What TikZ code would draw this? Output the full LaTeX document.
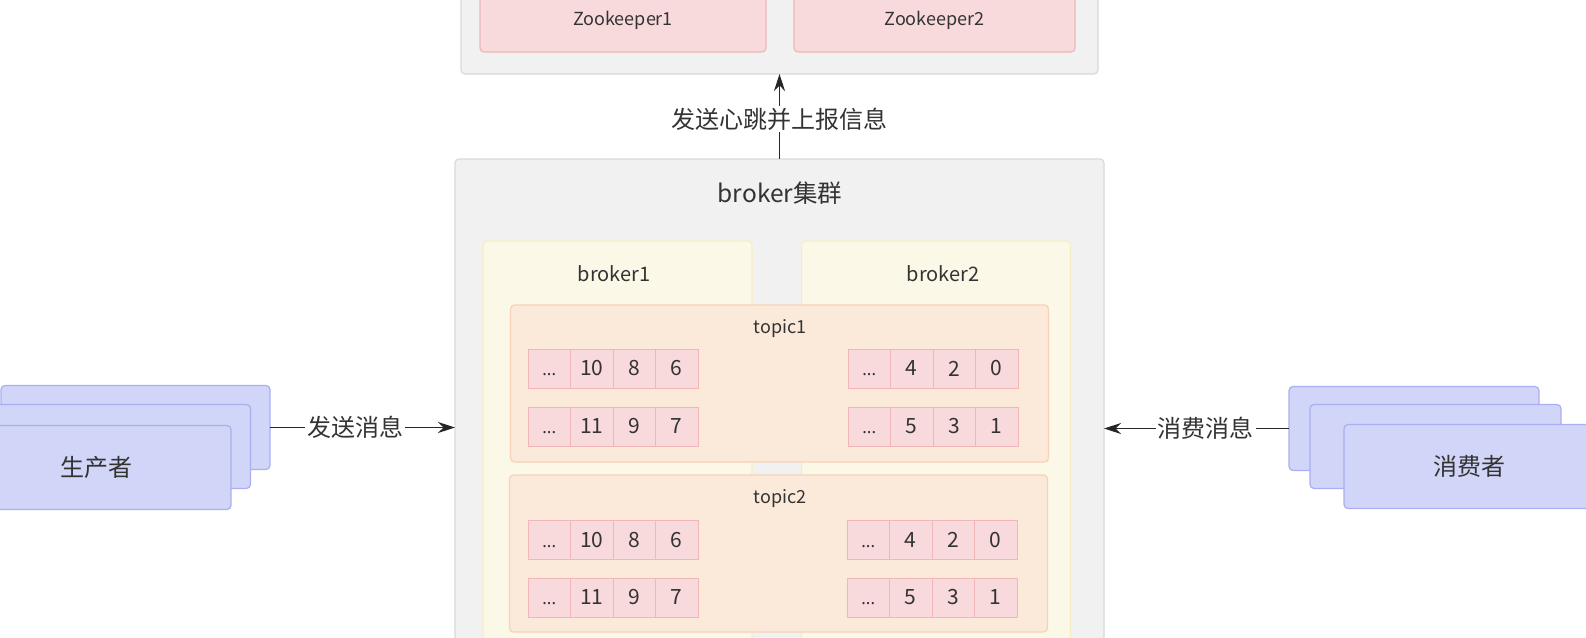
\documentclass[tikz,border=0pt]{standalone}
\usepackage{fontspec}
\setmainfont{Noto Sans CJK SC}
\newfontfamily\lat{Noto Sans}
\usetikzlibrary{arrows.meta,positioning}
\definecolor{txt}{HTML}{333333}
\definecolor{grpfill}{HTML}{F1F1F1}
\definecolor{grpline}{HTML}{D9D9D9}
\definecolor{zkfill}{HTML}{F9DADC}
\definecolor{zkline}{HTML}{F0B6B8}
\definecolor{brkfill}{HTML}{FCF8E8}
\definecolor{brkline}{HTML}{F6EDC4}
\definecolor{tpfill}{HTML}{FBE9DA}
\definecolor{tpline}{HTML}{F7D2B4}
\definecolor{clfill}{HTML}{D1D5F7}
\definecolor{clline}{HTML}{A9AFF0}
\newcommand\fsz[1]{\fontsize{#1}{#1}\selectfont}
% one row of a partition: name, left x, centre y, three offsets
\newcommand\partrow[6]{%
 \node[cell] (#1a) at (#2+21.25,#3) {\vphantom{0}\lat\fsz{17}...};
 \node[cell] (#1b) at (#2+63.75,#3) {#4};
 \node[cell] (#1c) at (#2+106.25,#3) {#5};
 \node[cell] (#1d) at (#2+148.75,#3) {#6};}

\begin{document}
\begin{tikzpicture}[x=1pt,y=-1pt,
 every node/.style={text=txt},
 box/.style={rounded corners=4pt,line width=1.2pt,inner sep=0pt,outer sep=0pt},
 grp/.style={box,draw=grpline,fill=grpfill},
 zk/.style={box,draw=zkline,fill=zkfill,minimum height=64pt,font=\fsz{18}},
 brk/.style={box,draw=brkline,fill=brkfill,minimum width=269pt,minimum height=459pt},
 topic/.style={box,draw=tpline,fill=tpfill,minimum width=538pt,minimum height=157pt},
 cell/.style={draw=zkline,fill=zkfill,line width=1pt,inner sep=0pt,outer sep=0pt,
  minimum width=42.5pt,minimum height=39pt,font=\fsz{21}},
 client/.style={box,draw=clline,fill=clfill,minimum width=269pt,minimum height=84pt,font=\fsz{24}},
 lbl/.style={inner sep=2pt,fill=white,font=\fsz{24}},
 link/.style={-{Stealth[length=17pt,width=11pt]},line width=1.7pt,draw=black!85}]
\useasboundingbox (0,0) rectangle (1586,637);
\clip (0,0) rectangle (1586,637);

% zookeeper
\node[grp,minimum width=637pt,minimum height=104pt] (zkgrp) at (779.5,22) {};
\node[zk,minimum width=286pt] (zk1) at (623,20) {Zookeeper1};
\node[zk,minimum width=281pt] (zk2) at (934.5,20) {Zookeeper2};

% broker cluster
\node[grp,minimum width=649pt,minimum height=530pt] (cluster) at (779.5,424) {};
\node[font=\fsz{24.5}] (clname) at (780,193) {broker集群};
\node[brk] (brk1) at (617.5,470.5) {};
\node[brk] (brk2) at (936,470.5) {};
\node[font=\fsz{20}] (brk1name) at (614,274) {broker1};
\node[font=\fsz{20}] (brk2name) at (943,274) {broker2};

\node[topic] (tp1) at (779.5,383.5) {};
\node[font=\fsz{18}] (tp1name) at (780,329) {topic1};
\partrow{tpAla}{528}{368.5}{10}{8}{6}
\partrow{tpAlb}{528}{426.5}{11}{9}{7}
\partrow{tpAra}{848}{368.5}{4}{2}{0}
\partrow{tpArb}{848}{426.5}{5}{3}{1}

\node[topic] (tp2) at (778.5,553.5) {};
\node[font=\fsz{18}] (tp2name) at (780,499) {topic2};
\partrow{tpBla}{528}{540}{10}{8}{6}
\partrow{tpBlb}{528}{597.5}{11}{9}{7}
\partrow{tpBra}{847}{540}{4}{2}{0}
\partrow{tpBrb}{847}{597.5}{5}{3}{1}

% producers and consumers
\node[client] (prod3) at (135.5,427.5) {};
\node[client] (prod2) at (116,446.5) {};
\node[client] (prod1) at (96.5,467.5) {生产者};
\node[client,minimum width=250pt] (cons3) at (1414,428.5) {};
\node[client,minimum width=251pt] (cons2) at (1435.5,446.5) {};
\node[client,minimum width=251pt] (cons1) at (1469.5,466.5) {消费者};

% links
\draw[link] (cluster.north) -- node[lbl,pos=0.47] {发送心跳并上报信息} (zkgrp.south);
\draw[link] (prod3.east) -- node[lbl,pos=0.46] {发送消息} (cluster.west |- prod3.east);
\draw[link] (cons3.west) -- node[lbl,pos=0.45] {消费消息} (cluster.east |- cons3.west);
\end{tikzpicture}
\end{document}
